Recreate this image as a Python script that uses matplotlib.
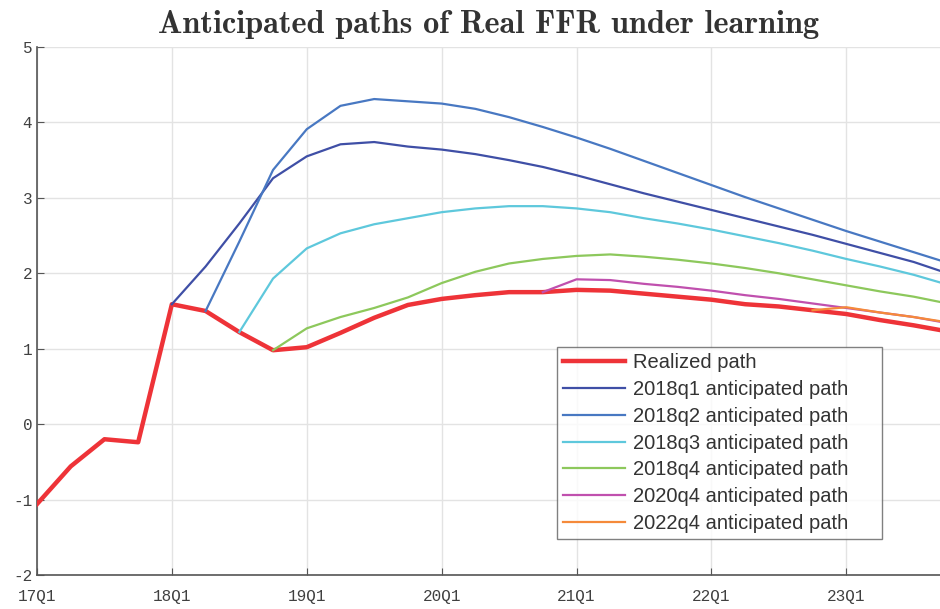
import numpy as np
import matplotlib.pyplot as plt

plt.rcParams['axes.unicode_minus'] = False

# quarters 17Q1 .. 23Q4 (index 0..27)
tick_pos = [0, 4, 8, 12, 16, 20, 24]
tick_lab = ['17Q1', '18Q1', '19Q1', '20Q1', '21Q1', '22Q1', '23Q1']

realized = [-1.06, -0.56, -0.20, -0.24, 1.59, 1.50, 1.22, 0.98, 1.02, 1.21,
            1.41, 1.58, 1.66, 1.71, 1.75, 1.75, 1.78, 1.77, 1.73, 1.69,
            1.65, 1.59, 1.56, 1.51, 1.46, 1.38, 1.31, 1.23]

# anticipated paths: start quarter index, values
p18q1_start = 4
p18q1 = [1.59, 2.09, 2.66, 3.26, 3.55, 3.71, 3.74, 3.68, 3.64, 3.58,
         3.50, 3.41, 3.30, 3.18, 3.06, 2.95, 2.84, 2.73, 2.62, 2.51,
         2.39, 2.27, 2.15, 2.00]
p18q2_start = 5
p18q2 = [1.50, 2.42, 3.37, 3.91, 4.22, 4.31, 4.28, 4.25, 4.18, 4.07,
         3.94, 3.80, 3.65, 3.49, 3.33, 3.17, 3.01, 2.86, 2.71, 2.56,
         2.42, 2.28, 2.14]
p18q3_start = 6
p18q3 = [1.22, 1.93, 2.33, 2.53, 2.65, 2.73, 2.81, 2.86, 2.89, 2.89,
         2.86, 2.81, 2.73, 2.66, 2.58, 2.49, 2.40, 2.30, 2.19, 2.09,
         1.98, 1.85]
p18q4_start = 7
p18q4 = [0.98, 1.27, 1.42, 1.54, 1.68, 1.87, 2.02, 2.13, 2.19, 2.23,
         2.25, 2.22, 2.18, 2.13, 2.07, 2.00, 1.92, 1.84, 1.76, 1.69, 1.60]
p20q4_start = 15
p20q4 = [1.75, 1.92, 1.91, 1.86, 1.82, 1.77, 1.71, 1.66, 1.60, 1.54,
         1.48, 1.42, 1.34]
p22q4_start = 23
p22q4 = [1.51, 1.55, 1.48, 1.42, 1.35]

paths = [
    (p18q1_start, p18q1, '#3F4FA6', '2018q1 anticipated path'),
    (p18q2_start, p18q2, '#4878C2', '2018q2 anticipated path'),
    (p18q3_start, p18q3, '#5EC8DC', '2018q3 anticipated path'),
    (p18q4_start, p18q4, '#8DC85C', '2018q4 anticipated path'),
    (p20q4_start, p20q4, '#C050AE', '2020q4 anticipated path'),
    (p22q4_start, p22q4, '#F58A3A', '2022q4 anticipated path'),
]

fig = plt.figure(figsize=(9.4, 6.09), dpi=100)
ax = fig.add_axes([37/940, 34/609, 1 - 37/940, 528/609])

h_real, = ax.plot(np.arange(len(realized)), realized, color='#EE3338', lw=3.2,
                  zorder=3, label='Realized path')
handles = [h_real]
for start, vals, col, lab in paths:
    h, = ax.plot(np.arange(start, start + len(vals)), vals, color=col, lw=1.6,
                 label=lab, zorder=4)
    handles.append(h)

ax.set_xlim(0, 26.78)
ax.set_ylim(-2, 5)
ax.set_xticks(tick_pos)
ax.set_xticklabels(tick_lab)
ax.set_yticks(range(-2, 6))
ax.grid(True, color='#e3e3e3', lw=1)
ax.set_axisbelow(True)
for s in ['top', 'right']:
    ax.spines[s].set_visible(False)
for s in ['left', 'bottom']:
    ax.spines[s].set_color('#555555')
    ax.spines[s].set_linewidth(1.2)
ax.tick_params(direction='in', length=5, color='#555555', labelcolor='#404040',
               labelsize=11.5)
for t in ax.get_xticklabels() + ax.get_yticklabels():
    t.set_fontfamily('Liberation Mono')
ax.tick_params(axis='x', pad=10)

ax.set_title('Anticipated paths of Real FFR under learning', fontname='cmb10',
             fontsize=23.3, color='#333333', pad=10)

leg = ax.legend(handles=handles, loc='upper left',
                bbox_to_anchor=(520/903, 1 - 300/528, 325/903, 0),
                mode='expand', frameon=True,
                fancybox=False, edgecolor='#606060',
                prop={'family': 'Liberation Sans', 'size': 14.5},
                handlelength=3.1, labelspacing=0.39, borderpad=0.3,
                handletextpad=0.35, borderaxespad=0)
leg.get_frame().set_linewidth(1.0)
for t in leg.get_texts():
    t.set_color('#333333')

fig.savefig('out.png', dpi=100)
